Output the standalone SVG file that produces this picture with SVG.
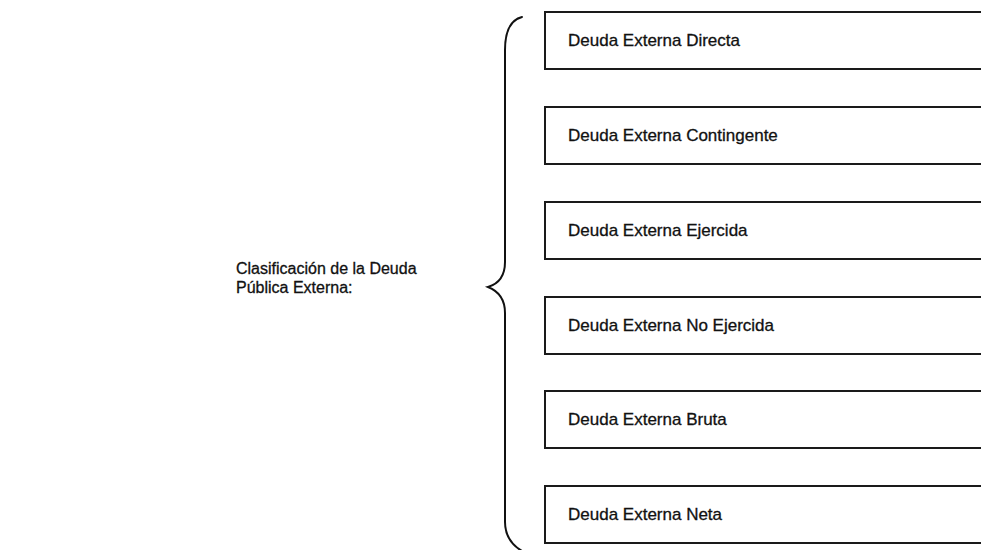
<svg xmlns="http://www.w3.org/2000/svg" width="981" height="550" viewBox="0 0 981 550">
  <style>
    .box { fill: #ffffff; stroke: #1a1a1a; stroke-width: 2; }
    .lbl { font-family: "Liberation Sans", Arial, sans-serif; font-size: 16px; fill: #111111; stroke: #111111; stroke-width: 0.3; }
    .item { font-family: "Liberation Sans", Arial, sans-serif; font-size: 17px; fill: #111111; stroke: #111111; stroke-width: 0.3; }
    .brace { fill: none; stroke: #111111; stroke-width: 2; stroke-linecap: round; }
  </style>
  <rect width="981" height="550" fill="#ffffff"/>

  <!-- heading on the left -->
  <g id="title">
    <text class="lbl" x="236" y="274">Clasificación de la Deuda</text>
    <text class="lbl" x="236" y="293">Pública Externa:</text>
  </g>

  <!-- curly brace grouping the six categories -->
  <g id="connectors">
    <path class="brace" d="M522,17 C510,20 505,32 505,50 L505,262 C505,276 498,284 488,287 C498,291 505,299 505,313 L505,522 C505,536 512,545 522,551"/>
  </g>

  <!-- category boxes (they run off the right edge) -->
  <g id="directa">
    <rect class="box" x="545" y="12" width="460" height="57"/>
    <text class="item" x="568" y="46">Deuda Externa Directa</text>
  </g>
  <g id="contingente">
    <rect class="box" x="545" y="107" width="460" height="57"/>
    <text class="item" x="568" y="141">Deuda Externa Contingente</text>
  </g>
  <g id="ejercida">
    <rect class="box" x="545" y="202" width="460" height="57"/>
    <text class="item" x="568" y="236">Deuda Externa Ejercida</text>
  </g>
  <g id="no-ejercida">
    <rect class="box" x="545" y="297" width="460" height="57"/>
    <text class="item" x="568" y="331">Deuda Externa No Ejercida</text>
  </g>
  <g id="bruta">
    <rect class="box" x="545" y="391" width="460" height="57"/>
    <text class="item" x="568" y="425">Deuda Externa Bruta</text>
  </g>
  <g id="neta">
    <rect class="box" x="545" y="486" width="460" height="57"/>
    <text class="item" x="568" y="520">Deuda Externa Neta</text>
  </g>
</svg>
